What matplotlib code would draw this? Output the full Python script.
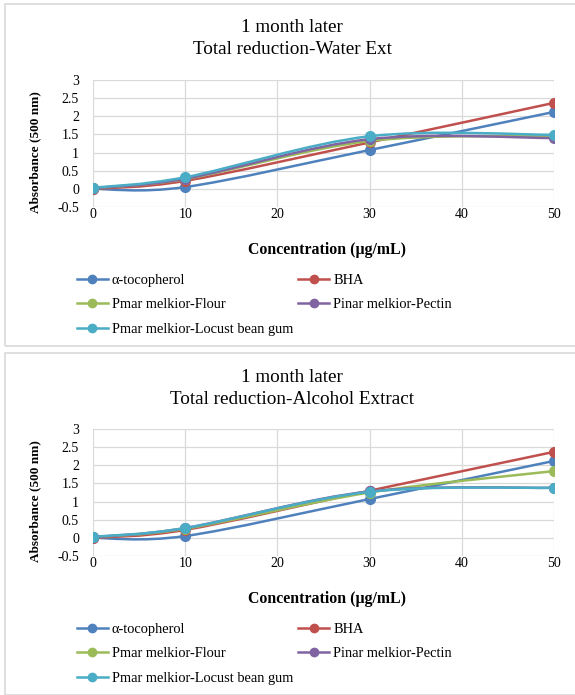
import matplotlib
matplotlib.use("Agg")
import matplotlib.pyplot as plt
from matplotlib.path import Path
from matplotlib.patches import PathPatch, Rectangle
from matplotlib.lines import Line2D
import numpy as np

plt.rcParams['font.family'] = ['Liberation Serif', 'DejaVu Serif']

conc = [0, 10, 30, 50]
series_names = ['α-tocopherol', 'BHA', 'Pmar melkior-Flour',
                'Pinar melkior-Pectin', 'Pmar melkior-Locust bean gum']
colors = ['#4F81BD', '#C0504D', '#9BBB59', '#8064A2', '#4BACC6']

water_toco = [0.0, 0.05, 1.07, 2.12]
water_bha = [0.0, 0.22, 1.28, 2.37]
water_flour = [0.02, 0.27, 1.32, 1.45]
water_pectin = [0.02, 0.28, 1.37, 1.40]
water_locust = [0.03, 0.32, 1.45, 1.49]

alc_toco = [0.0, 0.05, 1.07, 2.12]
alc_bha = [0.0, 0.22, 1.30, 2.37]
alc_flour = [0.02, 0.25, 1.25, 1.84]
alc_pectin = [0.02, 0.27, 1.28, 1.38]
alc_locust = [0.03, 0.27, 1.27, 1.38]

W, H = 575, 695


def smooth_path(x, y):
    # Excel-like smoothed line: cubic bezier between points
    p = np.column_stack([x, y]).astype(float)
    n = len(p)
    verts = [p[0]]
    codes = [Path.MOVETO]
    for i in range(n - 1):
        prev = p[i - 1] if i > 0 else p[i]
        nxt = p[i + 2] if i + 2 < n else p[i + 1]
        c1 = p[i] + (p[i + 1] - prev) / 6
        c2 = p[i + 1] - (nxt - p[i]) / 6
        verts += [c1, c2, p[i + 1]]
        codes += [Path.CURVE4] * 3
    return Path(verts, codes)


def fy(px):
    return 1 - px / H


def panel(top, title1, title2, data):
    # top = y pixel of the chart frame's top edge
    fig.patches.append(Rectangle((5 / W, fy(top + 342)), 575 / W, 342 / H,
                                 transform=fig.transFigure, fill=False,
                                 edgecolor='#D9D9D9', lw=1.2))
    ax = fig.add_axes([93 / W, fy(top + 203), 461 / W, 127 / H])
    for vals, c in zip(data, colors):
        ax.add_patch(PathPatch(smooth_path(conc, vals), fill=False,
                               edgecolor=c, lw=1.8, zorder=3))
        ax.plot(conc, vals, 'o', color=c, ms=7, zorder=4)
    ax.set_xlim(0, 50)
    ax.set_ylim(-0.5, 3)
    ax.set_xticks(np.arange(0, 51, 10))
    ax.set_yticks(np.arange(-0.5, 3.01, 0.5))
    ax.set_yticklabels(['-0.5', '0', '0.5', '1', '1.5', '2', '2.5', '3'])
    ax.tick_params(axis='y', length=0, labelsize=10, pad=10)
    ax.tick_params(axis='x', length=0, labelsize=10, pad=1)
    ax.grid(True, color='#D9D9D9', lw=0.9)
    for s in ax.spines.values():
        s.set_visible(False)
    ax.set_axisbelow(True)
    fig.text(292 / W, fy(top + 24), title1, ha='center', va='center',
             fontsize=13.8)
    fig.text(292 / W, fy(top + 46), title2, ha='center', va='center',
             fontsize=13.8)
    fig.text(35 / W, fy(top + 148), 'Absorbance (500 nm)', rotation=90,
             ha='center', va='center', fontsize=9.5, fontweight='bold')
    fig.text(327 / W, fy(top + 246), 'Concentration (µg/mL)',
             ha='center', va='center', fontsize=11.4, fontweight='bold')
    handles = [Line2D([], [], color=c, lw=1.8, marker='o', ms=6) for c in colors]
    order = [0, 2, 4, 1, 3]
    fig.legend([handles[i] for i in order], [series_names[i] for i in order],
               ncol=2, loc='upper left',
               bbox_to_anchor=(71 / W, fy(top + 264)),
               frameon=False, fontsize=10.4, handlelength=2.15,
               handletextpad=0.28, columnspacing=0.35, labelspacing=0.78,
               borderaxespad=0)
    return ax


fig = plt.figure(figsize=(W / 100, H / 100), dpi=100)
panel(4, '1 month later', 'Total reduction-Water Ext',
      [water_toco, water_bha, water_flour, water_pectin, water_locust])
panel(353, '1 month later', 'Total reduction-Alcohol Extract',
      [alc_toco, alc_bha, alc_flour, alc_pectin, alc_locust])
fig.savefig('out.png', dpi=100)
